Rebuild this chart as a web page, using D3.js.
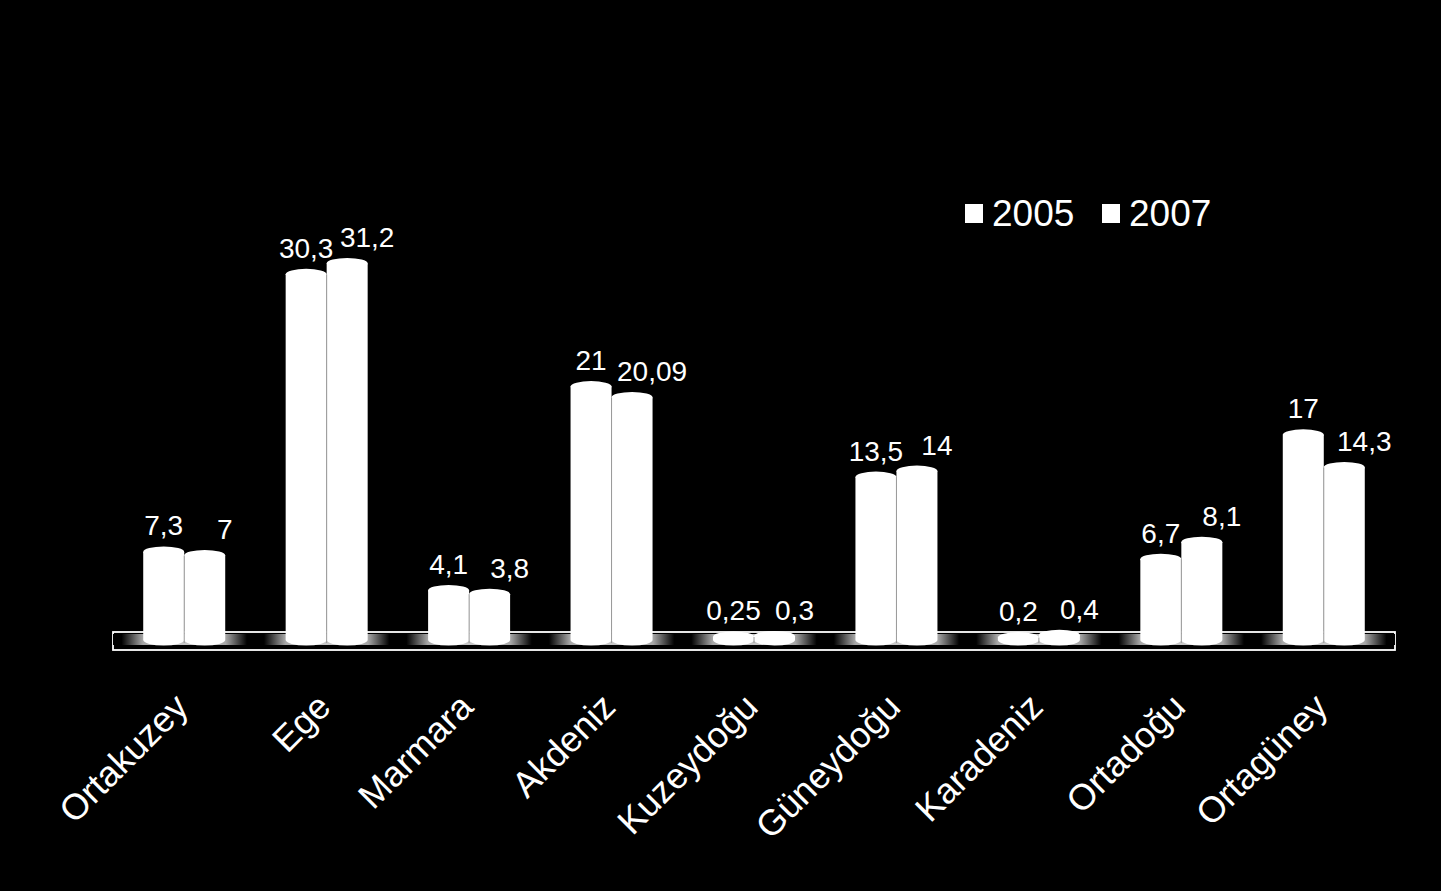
<!DOCTYPE html>
<html>
<head>
<meta charset="utf-8">
<script src="https://cdn.jsdelivr.net/npm/d3@7"></script>
<style>
  html, body { margin: 0; padding: 0; background: #000; }
  svg { display: block; }
  text { font-family: "Liberation Sans", Arial, sans-serif; fill: #fff; }
</style>
</head>
<body>
<script>
const categories = ["Ortakuzey", "Ege", "Marmara", "Akdeniz", "Kuzeydoğu", "Güneydoğu", "Karadeniz", "Ortadoğu", "Ortagüney"];
const seriesNames = ["2005", "2007"];
const values2005 = [7.3, 30.3, 4.1, 21, 0.25, 13.5, 0.2, 6.7, 17];
const values2007 = [7, 31.2, 3.8, 20.09, 0.3, 14, 0.4, 8.1, 14.3];
const yDomain = [0, 40];

const W = 1441, H = 891;
const svg = d3.select("body").append("svg").attr("width", W).attr("height", H);
svg.append("rect").attr("width", W).attr("height", H).attr("fill", "#000");

const plotLeft = 113, plotRight = 1395;
const baseY = 640, ry = 5.5;
const x0 = d3.scaleBand().domain(categories).range([plotLeft, plotRight]).paddingInner(0).paddingOuter(0);
const barW = 41;
const x1 = d3.scaleBand().domain(seriesNames).range([-barW, barW]);
const y = d3.scaleLinear().domain(yDomain).range([baseY, baseY - 12.07 * 40]);

const fmt = v => String(v).replace(".", ",");

// gradient for floor
const defs = svg.append("defs");
const grad = defs.append("linearGradient").attr("id", "floorGrad").attr("x1", 0).attr("x2", 1).attr("y1", 0).attr("y2", 0);
[[0, "#000"], [0.06, "#000"], [0.21, "#a8a8a8"], [0.5, "#c8c8c8"], [0.79, "#a8a8a8"], [0.94, "#000"], [1, "#000"]]
  .forEach(([o, c]) => grad.append("stop").attr("offset", o).attr("stop-color", c));

// floor
const floor = svg.append("g");
floor.append("rect").attr("x", plotLeft).attr("y", 632).attr("width", plotRight - plotLeft).attr("height", 18)
  .attr("fill", "#000").attr("stroke", "#fff").attr("stroke-width", 1.8);
floor.selectAll("rect.band").data(categories).join("rect").attr("class", "band")
  .attr("x", d => x0(d)).attr("y", 634).attr("width", x0.bandwidth()).attr("height", 11)
  .attr("fill", "url(#floorGrad)");

// bars
const data = categories.map((c, i) => ({ cat: c, vals: [values2005[i], values2007[i]] }));
const rx = barW / 2;
function cylPath(xl, yt, yb) {
  const xr = xl + barW;
  return `M${xl},${yt} V${yb} A${rx},${ry} 0 0 0 ${xr},${yb} V${yt} Z`;
}
const groups = svg.append("g").selectAll("g").data(data).join("g")
  .attr("transform", d => `translate(${x0(d.cat) + x0.bandwidth() / 2},0)`);

groups.each(function (d) {
  const g = d3.select(this);
  seriesNames.forEach((s, j) => {
    const v = d.vals[j];
    const xl = x1(s);
    const yt = y(v);
    g.append("path").attr("d", cylPath(xl, yt, baseY)).attr("fill", "#fff");
    g.append("ellipse").attr("cx", xl + rx).attr("cy", yt).attr("rx", rx).attr("ry", ry).attr("fill", "#fff");
  });
  // seam between the two cylinders
  const seamTop = Math.max(y(d.vals[0]), y(d.vals[1]));
  if (baseY - seamTop > 2) {
    g.append("line").attr("x1", x1("2007")).attr("x2", x1("2007"))
      .attr("y1", seamTop).attr("y2", baseY + 3)
      .attr("stroke", "#9a9a9a").attr("stroke-width", 1);
  }
  // value labels
  seriesNames.forEach((s, j) => {
    const v = d.vals[j];
    g.append("text")
      .attr("x", x1(s) + rx + (j === 1 ? 20 : 0))
      .attr("y", y(v) - ry - 11)
      .attr("text-anchor", "middle")
      .attr("font-size", 28)
      .text(fmt(v));
  });
});

// category labels
svg.append("g").selectAll("text").data(categories).join("text")
  .attr("transform", d => `translate(${x0(d) + x0.bandwidth() / 2 + 6},709) rotate(-45)`)
  .attr("text-anchor", "end")
  .attr("font-size", 36)
  .text(d => d);

// legend
const legend = svg.append("g");
const legendX = [965, 1102];
seriesNames.forEach((s, j) => {
  legend.append("rect").attr("x", legendX[j]).attr("y", 204).attr("width", 18).attr("height", 19).attr("fill", "#fff");
  legend.append("text").attr("x", legendX[j] + 27).attr("y", 226).attr("font-size", 37).text(s);
});
</script>
</body>
</html>
